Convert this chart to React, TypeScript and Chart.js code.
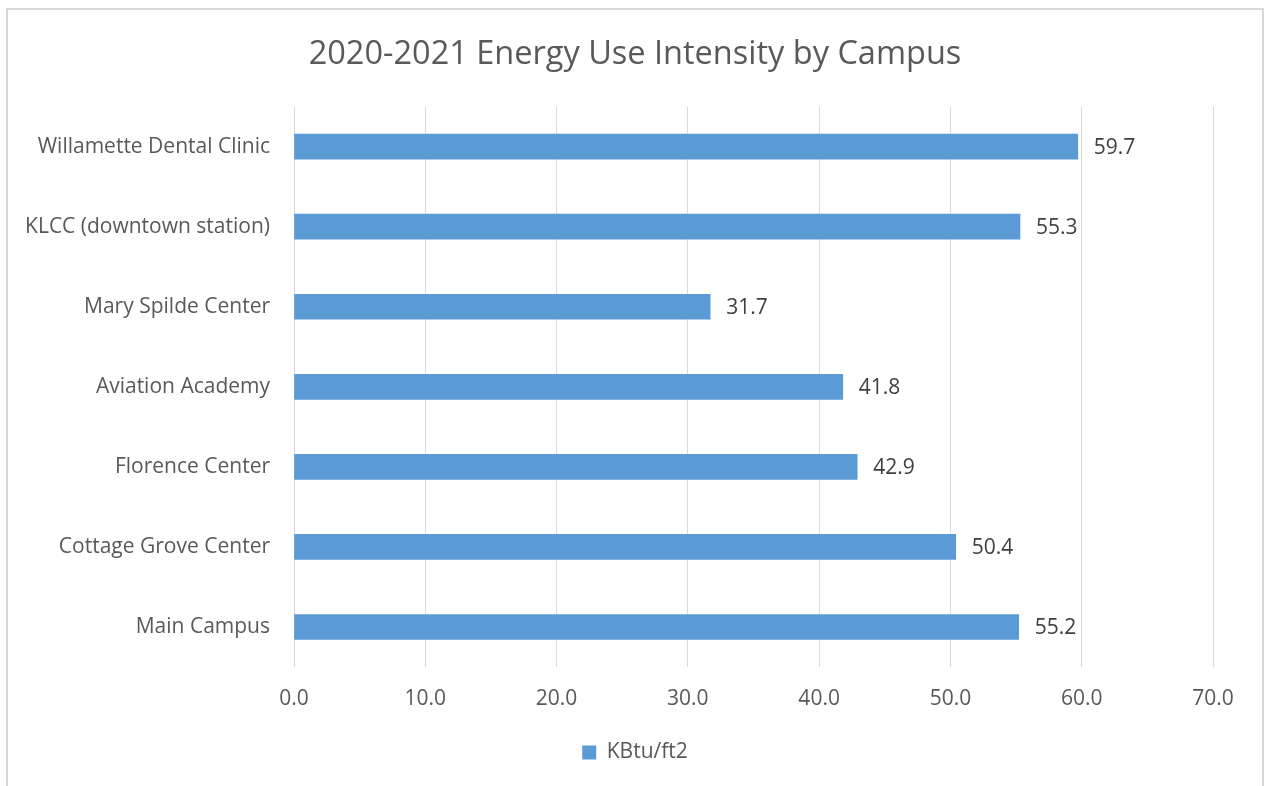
import React, { useEffect, useRef } from "react";
import { Chart, registerables } from "chart.js";

Chart.register(...registerables);

const categories = [
  "Willamette Dental Clinic",
  "KLCC (downtown station)",
  "Mary Spilde Center",
  "Aviation Academy",
  "Florence Center",
  "Cottage Grove Center",
  "Main Campus",
];
const values = [59.7, 55.3, 31.7, 41.8, 42.9, 50.4, 55.2];
const seriesName = "KBtu/ft2";
const title = "2020-2021 Energy Use Intensity by Campus";
const xMin = 0;
const xMax = 70;
const xStep = 10;

const FONT = "'Open Sans', sans-serif";
const W = 1254;
const H = 776;

const valueLabels = {
  id: "valueLabels",
  afterDatasetsDraw(chart: any) {
    const ctx = chart.ctx;
    const meta = chart.getDatasetMeta(0);
    ctx.save();
    ctx.font = `21px ${FONT}`;
    ctx.fillStyle = "#404040";
    ctx.textAlign = "left";
    ctx.textBaseline = "middle";
    meta.data.forEach((bar: any, i: number) => {
      const v = chart.data.datasets[0].data[i];
      ctx.fillText(Number(v).toFixed(1), bar.x + 16, bar.y + 1);
    });
    ctx.restore();
  },
};

export default function App() {
  const ref = useRef<HTMLCanvasElement>(null);
  useEffect(() => {
    if (!ref.current) return;
    const chart = new Chart(ref.current, {
      type: "bar",
      data: {
        labels: categories,
        datasets: [
          {
            label: seriesName,
            data: values,
            backgroundColor: "#5b9bd5",
            borderWidth: 0,
            barThickness: 25,
          },
        ],
      },
      options: {
        indexAxis: "y",
        animation: false,
        responsive: false,
        layout: { padding: { left: 0, right: 0, top: 0, bottom: 13 } },
        plugins: {
          title: {
            display: true,
            text: title,
            color: "#595959",
            font: { family: FONT, size: 32.5, weight: "normal" },
            padding: { top: 25, bottom: 32.6 },
          },
          legend: {
            position: "bottom",
            labels: {
              color: "#595959",
              font: { family: FONT, size: 21 },
              boxWidth: 14,
              boxHeight: 14,
              padding: 10,
            },
          },
          tooltip: { enabled: false },
        },
        scales: {
          x: {
            min: xMin,
            max: xMax,
            ticks: {
              stepSize: xStep,
              color: "#595959",
              font: { family: FONT, size: 21 },
              padding: 19,
              callback: (v: any) => Number(v).toFixed(1),
            },
            grid: { color: "#d9d9d9", lineWidth: 1, drawTicks: false },
            border: { display: false },
            afterFit: (s: any) => {
              s.height = 65;
            },
          },
          y: {
            ticks: {
              color: "#595959",
              font: { family: FONT, size: 21 },
              padding: 24,
            },
            grid: { display: false, drawTicks: false },
            border: { display: false },
            afterFit: (s: any) => {
              s.width = 286;
            },
          },
          yRight: {
            type: "category",
            position: "right",
            labels: categories,
            ticks: { display: false },
            grid: { display: false, drawTicks: false },
            border: { display: false },
            afterFit: (s: any) => {
              s.width = 49;
            },
          },
        },
      },
      plugins: [valueLabels],
    });
    return () => chart.destroy();
  }, []);
  return (
    <div
      style={{
        position: "fixed",
        left: 6,
        top: 8,
        width: W,
        height: H,
        border: "2px solid #d9d9d9",
        background: "#fff",
      }}
    >
      <canvas ref={ref} width={W} height={H} style={{ display: "block" }} />
    </div>
  );
}
